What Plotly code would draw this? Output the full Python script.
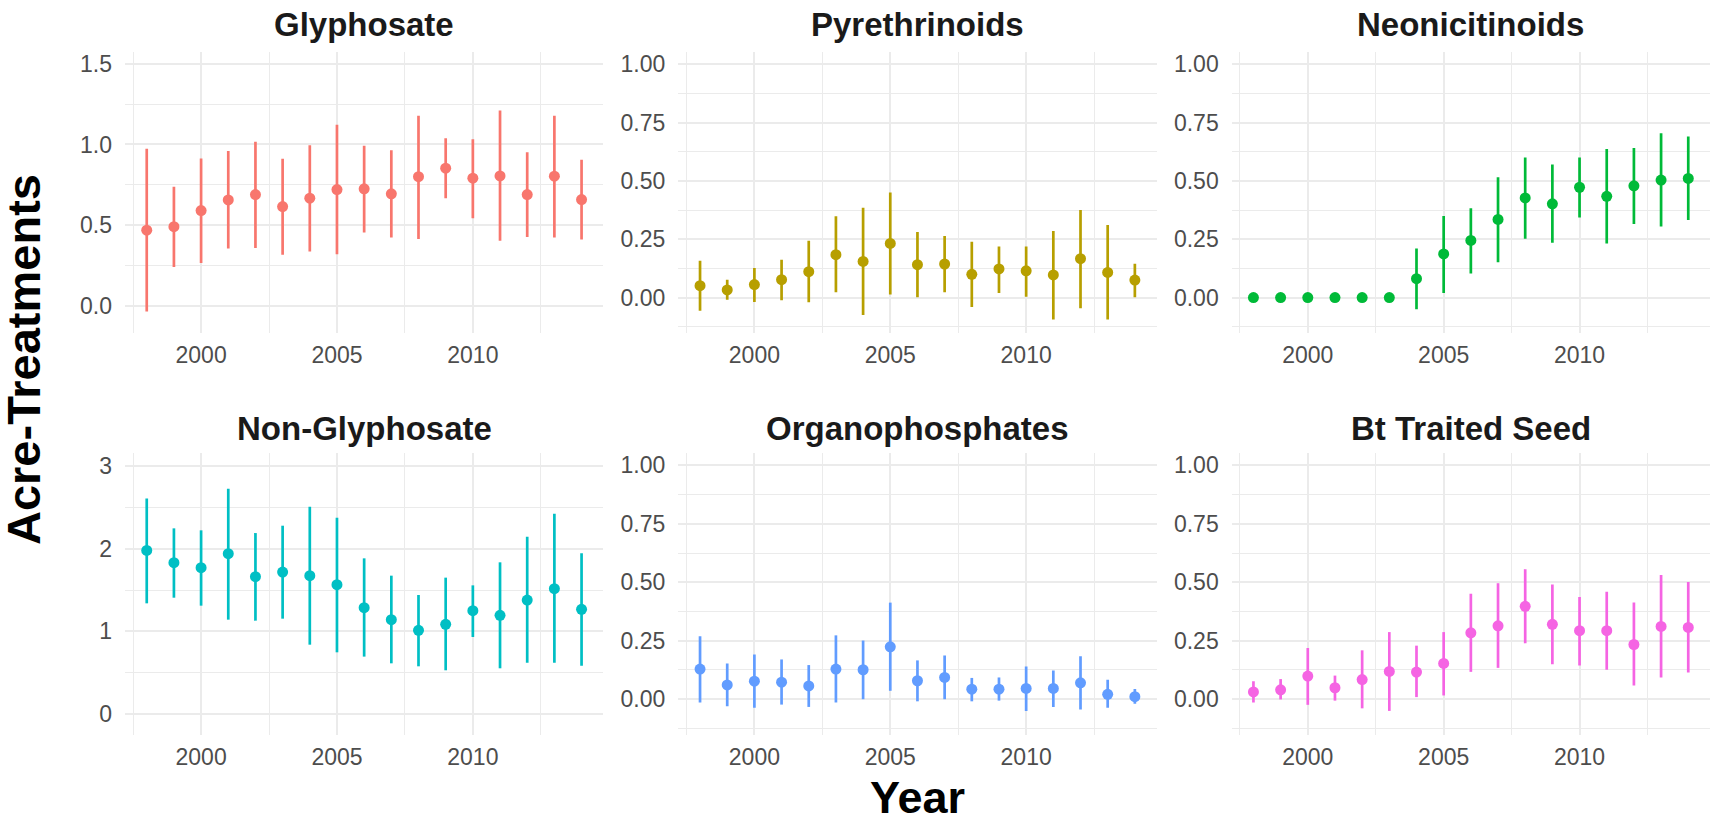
import plotly.graph_objects as go

years = list(range(1998, 2015))

panel_names = ["Glyphosate", "Pyrethrinoids", "Neonicitinoids",
               "Non-Glyphosate", "Organophosphates", "Bt Traited Seed"]
panel_colors = ["#F8766D", "#B79F00", "#00BA38", "#00BFC4", "#619CFF", "#F564E3"]

glyphosate_mean = [0.468, 0.49, 0.59, 0.656, 0.689, 0.615, 0.667, 0.72, 0.725, 0.694, 0.80, 0.853, 0.791, 0.805, 0.689, 0.803, 0.658]
glyphosate_low = [-0.037, 0.24, 0.265, 0.354, 0.358, 0.315, 0.335, 0.319, 0.453, 0.422, 0.414, 0.667, 0.542, 0.402, 0.426, 0.422, 0.41]
glyphosate_high = [0.973, 0.737, 0.913, 0.96, 1.017, 0.911, 0.996, 1.122, 0.992, 0.965, 1.178, 1.039, 1.033, 1.211, 0.952, 1.178, 0.905]

pyreth_mean = [0.051, 0.033, 0.056, 0.077, 0.111, 0.184, 0.155, 0.232, 0.141, 0.144, 0.10, 0.123, 0.115, 0.097, 0.167, 0.108, 0.075]
pyreth_low = [-0.056, -0.009, -0.019, -0.011, -0.02, 0.023, -0.075, 0.013, 0.001, 0.023, -0.04, 0.02, 0.004, -0.094, -0.046, -0.094, 0.001]
pyreth_high = [0.158, 0.077, 0.127, 0.162, 0.244, 0.349, 0.385, 0.45, 0.281, 0.264, 0.239, 0.219, 0.219, 0.285, 0.376, 0.311, 0.145]

neonic_mean = [0, 0, 0, 0, 0, 0, 0.081, 0.187, 0.245, 0.335, 0.427, 0.402, 0.473, 0.434, 0.479, 0.504, 0.511]
neonic_low = [0, 0, 0, 0, 0, 0, -0.05, 0.02, 0.103, 0.152, 0.252, 0.235, 0.343, 0.232, 0.315, 0.305, 0.333]
neonic_high = [0, 0, 0, 0, 0, 0, 0.211, 0.35, 0.383, 0.516, 0.601, 0.571, 0.601, 0.637, 0.641, 0.704, 0.691]

nonglyph_mean = [1.978, 1.83, 1.769, 1.938, 1.661, 1.717, 1.673, 1.564, 1.287, 1.142, 1.013, 1.086, 1.25, 1.194, 1.379, 1.516, 1.267]
nonglyph_low = [1.339, 1.407, 1.311, 1.142, 1.13, 1.154, 0.84, 0.748, 0.696, 0.615, 0.579, 0.531, 0.933, 0.555, 0.623, 0.623, 0.587]
nonglyph_high = [2.605, 2.244, 2.22, 2.722, 2.187, 2.276, 2.505, 2.372, 1.882, 1.673, 1.44, 1.649, 1.556, 1.834, 2.143, 2.42, 1.942]

organo_mean = [0.129, 0.061, 0.077, 0.073, 0.057, 0.129, 0.126, 0.224, 0.079, 0.093, 0.043, 0.043, 0.046, 0.046, 0.07, 0.021, 0.011]
organo_low = [-0.014, -0.03, -0.036, -0.023, -0.033, -0.014, 0.0, 0.036, -0.009, 0.0, -0.009, -0.006, -0.05, -0.033, -0.044, -0.037, -0.019]
organo_high = [0.269, 0.153, 0.191, 0.17, 0.146, 0.273, 0.251, 0.413, 0.166, 0.187, 0.091, 0.093, 0.14, 0.123, 0.184, 0.083, 0.044]

bt_mean = [0.031, 0.04, 0.099, 0.049, 0.084, 0.119, 0.116, 0.153, 0.284, 0.314, 0.397, 0.32, 0.293, 0.293, 0.234, 0.311, 0.307]
bt_low = [-0.014, -0.001, -0.024, -0.006, -0.039, -0.05, 0.009, 0.016, 0.117, 0.134, 0.239, 0.15, 0.144, 0.126, 0.059, 0.093, 0.114]
bt_high = [0.077, 0.086, 0.219, 0.101, 0.209, 0.287, 0.229, 0.287, 0.451, 0.496, 0.556, 0.49, 0.437, 0.46, 0.413, 0.531, 0.501]

series = [
    (glyphosate_mean, glyphosate_low, glyphosate_high),
    (pyreth_mean, pyreth_low, pyreth_high),
    (neonic_mean, neonic_low, neonic_high),
    (nonglyph_mean, nonglyph_low, nonglyph_high),
    (organo_mean, organo_low, organo_high),
    (bt_mean, bt_low, bt_high),
]

W, H = 1715, 819
col_px = [(125, 603.3), (678.3, 1156.6), (1231.7, 1710)]
row_px = [(51.7, 333.3), (452.7, 735)]

y_ranges = [[-0.172, 1.576], [-0.153, 1.054], [-0.153, 1.054],
            [-0.25, 3.157], [-0.153, 1.054], [-0.153, 1.054]]
y_major = [(0, 0.5, ".1f"), (0, 0.25, ".2f"), (0, 0.25, ".2f"),
           (0, 1, "d"), (0, 0.25, ".2f"), (0, 0.25, ".2f")]
y_minor = [(0.25, 0.5), (0.125, 0.25), (0.125, 0.25),
           (0.5, 1), (0.125, 0.25), (0.125, 0.25)]

GRID = "#EBEBEB"
TICKC = "#4D4D4D"
FONT = "Liberation Sans, Arial, sans-serif"

fig = go.Figure()
layout = dict(width=W, height=H, margin=dict(l=0, r=0, t=0, b=0),
              paper_bgcolor="white", plot_bgcolor="white", showlegend=False,
              font=dict(family=FONT))
annotations = []

for i, (name, color, (m, lo, hi)) in enumerate(zip(panel_names, panel_colors, series)):
    r, c = divmod(i, 3)
    n = i + 1
    xs = "" if n == 1 else str(n)
    fig.add_trace(go.Scatter(
        x=years, y=m, mode="markers",
        marker=dict(color=color, size=11),
        error_y=dict(type="data", symmetric=False,
                     array=[h - v for h, v in zip(hi, m)],
                     arrayminus=[v - l for v, l in zip(m, lo)],
                     color=color, thickness=2.7, width=0),
        xaxis="x" + xs, yaxis="y" + xs, hoverinfo="skip"))
    x0, x1 = col_px[c]
    y0, y1 = row_px[r]
    layout["xaxis" + xs] = dict(
        domain=[x0 / W, x1 / W], anchor="y" + xs, range=[1997.2, 2014.8],
        tickmode="linear", tick0=2000, dtick=5,
        showgrid=True, gridcolor=GRID, gridwidth=2.4, zeroline=False, showline=False,
        ticks="", tickfont=dict(size=23, color=TICKC, family=FONT), ticklabelstandoff=6,
        minor=dict(tick0=1997.5, dtick=5, showgrid=True, gridcolor=GRID, gridwidth=1.3))
    t0, dt, fmt = y_major[i]
    mt0, mdt = y_minor[i]
    layout["yaxis" + xs] = dict(
        domain=[1 - y1 / H, 1 - y0 / H], anchor="x" + xs, range=y_ranges[i],
        tickmode="linear", tick0=t0, dtick=dt, tickformat=fmt,
        showgrid=True, gridcolor=GRID, gridwidth=2.4, zeroline=False, showline=False,
        ticks="", tickfont=dict(size=23, color=TICKC, family=FONT), ticklabelstandoff=12,
        minor=dict(tick0=mt0, dtick=mdt, showgrid=True, gridcolor=GRID, gridwidth=1.3))
    title_y = 24 if r == 0 else 428
    annotations.append(dict(
        text="<b>%s</b>" % name, x=(x0 + x1) / 2 / W, y=1 - title_y / H,
        xref="paper", yref="paper", xanchor="center", yanchor="middle",
        showarrow=False, font=dict(size=33, color="#1A1A1A", family=FONT)))

annotations.append(dict(
    text="<b>Year</b>", x=(125 + 1710) / 2 / W, y=1 - 797 / H,
    xref="paper", yref="paper", xanchor="center", yanchor="middle",
    showarrow=False, font=dict(size=45, color="black", family=FONT)))
annotations.append(dict(
    text="<b>Acre-Treatments</b>", x=23 / W, y=1 - 360 / H, textangle=-90,
    xref="paper", yref="paper", xanchor="center", yanchor="middle",
    showarrow=False, font=dict(size=47, color="black", family=FONT)))

layout["annotations"] = annotations
fig.update_layout(**layout)
fig.write_html("out.html", config={"displayModeBar": False},
               post_script="document.body.style.margin='0px';document.body.style.overflow='hidden';")
